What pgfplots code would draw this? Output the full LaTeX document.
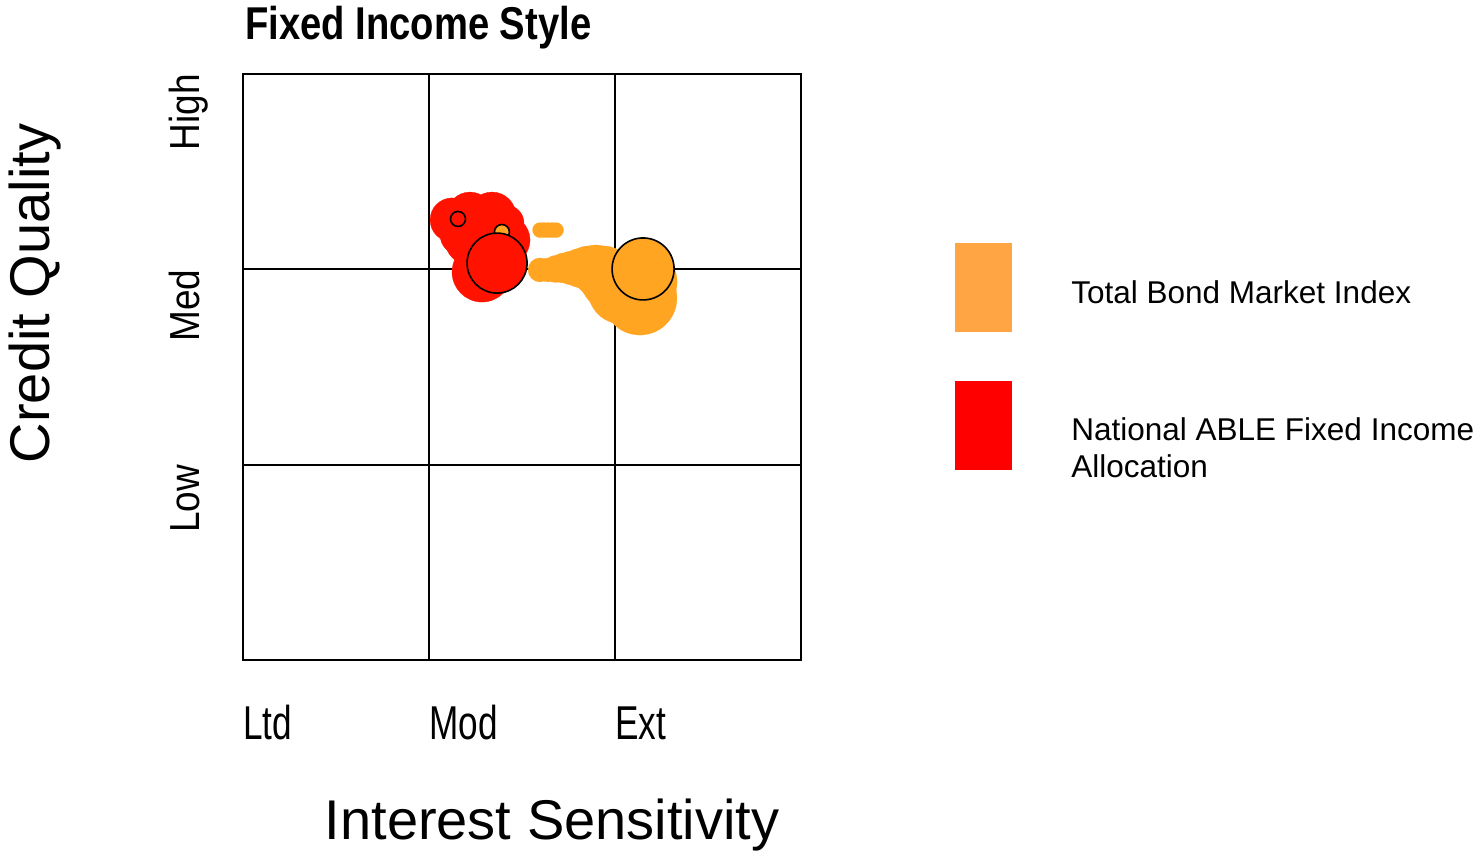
\documentclass[border=0pt]{standalone}
\usepackage{fontspec}
\setmainfont{Liberation Sans}
\newfontfamily\condx[FakeStretch=0.74]{Liberation Sans}
\newfontfamily\condy[FakeStretch=0.88]{Liberation Sans}
\newfontfamily\titlefont[FakeStretch=0.83]{Liberation Sans}
\usepackage{pgfplots}
\pgfplotsset{compat=1.18}
\definecolor{bondorange}{HTML}{FFA521}
\definecolor{ableRed}{HTML}{FF1200}
\definecolor{legorange}{HTML}{FFA544}
\definecolor{legred}{HTML}{FF0000}

% blob: fill colour, radius in pt; ring: same with black outline
\pgfplotsset{
  blob/.style 2 args={only marks, mark=*, mark size=#2, mark options={draw=#1, fill=#1, line width=0.1pt}},
  ring/.style 2 args={only marks, mark=*, mark size=#2, mark options={draw=black, fill=#1, line width=0.8pt}},
}

\begin{document}
\begin{tikzpicture}
\path[use as bounding box] (-121.5pt,-95.5pt) rectangle (615pt,330pt);
\begin{axis}[
  at={(0,0)}, anchor=south west,
  scale only axis, width=279pt, height=293pt,
  xmin=0, xmax=3, ymin=0, ymax=3,
  xtick={0,1,2}, xticklabels={Ltd,Mod,Ext},
  ytick={1,2,3}, yticklabels={Low,Med,High},
  major tick length=0pt,
  grid=major, major grid style={black, line width=1pt},
  axis line style={line width=1pt},
  xticklabel style={font=\condx\fontsize{23.75}{26}\selectfont, anchor=base west, inner sep=0pt},
  xticklabel shift=39.5pt,
  yticklabel style={font=\condy\fontsize{21}{24}\selectfont, rotate=90, anchor=base east, inner sep=0pt},
  yticklabel shift=21.5pt,
  clip=false,
]
% Total Bond Market Index ownership zone
\addplot[blob={bondorange}{6}]    coordinates {(1.597,1.997) (1.640,1.997)};
\addplot[blob={bondorange}{6.75}] coordinates {(1.683,2.002)};
\addplot[blob={bondorange}{7.5}]  coordinates {(1.726,2.007)};
\addplot[blob={bondorange}{8.5}]  coordinates {(1.769,2.007)};
\addplot[blob={bondorange}{9.75}] coordinates {(1.812,2.007)};
\addplot[blob={bondorange}{11}]   coordinates {(1.855,2.007)};
\addplot[blob={bondorange}{12.5}] coordinates {(1.898,1.997)};
\addplot[blob={bondorange}{14}]   coordinates {(1.941,1.976)};
\addplot[blob={bondorange}{15.5}] coordinates {(1.984,1.946) (2.151,2.002)};
\addplot[blob={bondorange}{17}]   coordinates {(2.038,1.894)};
\addplot[blob={bondorange}{18.5}] coordinates {(2.134,1.853)};
\addplot[blob={bondorange}{17}]   coordinates {(2.151,1.935)};
\addplot[blob={bondorange}{3.75}] coordinates {(1.597,2.201) (1.619,2.201) (1.640,2.201) (1.662,2.201) (1.683,2.201)};
% National ABLE Fixed Income Allocation ownership zone
\addplot[blob={ableRed}{11}]   coordinates {(1.124,2.253)};
\addplot[blob={ableRed}{11.5}] coordinates {(1.220,2.278)};
\addplot[blob={ableRed}{12}]   coordinates {(1.339,2.273)};
\addplot[blob={ableRed}{12.5}] coordinates {(1.409,2.150) (1.220,2.150)};
\addplot[blob={ableRed}{10}]   coordinates {(1.167,2.176)};
\addplot[blob={ableRed}{9}]    coordinates {(1.414,2.237)};
\addplot[blob={ableRed}{15}]   coordinates {(1.285,1.986)};
% centroids
\addplot[ring={bondorange}{3.75}] coordinates {(1.392,2.191)};
\addplot[ring={ableRed}{3.75}]    coordinates {(1.156,2.258)};
\addplot[ring={ableRed}{15}]      coordinates {(1.366,2.032)};
\addplot[ring={bondorange}{15.5}] coordinates {(2.151,2.002)};
\end{axis}

\node[anchor=base west, inner sep=0pt, font=\titlefont\bfseries\fontsize{23}{26}\selectfont] at (1pt,310pt) {Fixed Income Style};
\node[anchor=base, inner sep=0pt, rotate=90, font=\fontsize{28}{32}\selectfont] at (-96.5pt,183.25pt) {Credit Quality};
\node[anchor=base, inner sep=0pt, font=\fontsize{28}{32}\selectfont] at (154.5pt,-89.5pt) {Interest Sensitivity};

% legend
\fill[legorange] (356pt,164pt) rectangle (384.5pt,208.5pt);
\fill[legred] (356pt,95pt) rectangle (384.5pt,139.5pt);
\node[anchor=base west, inner sep=0pt, font=\fontsize{15.75}{18}\selectfont] at (414pt,178pt) {Total Bond Market Index};
\node[anchor=base west, inner sep=0pt, font=\fontsize{15.75}{18}\selectfont] at (414pt,109.5pt) {National ABLE Fixed Income};
\node[anchor=base west, inner sep=0pt, font=\fontsize{15.75}{18}\selectfont] at (414pt,91pt) {Allocation};
\end{tikzpicture}
\end{document}
